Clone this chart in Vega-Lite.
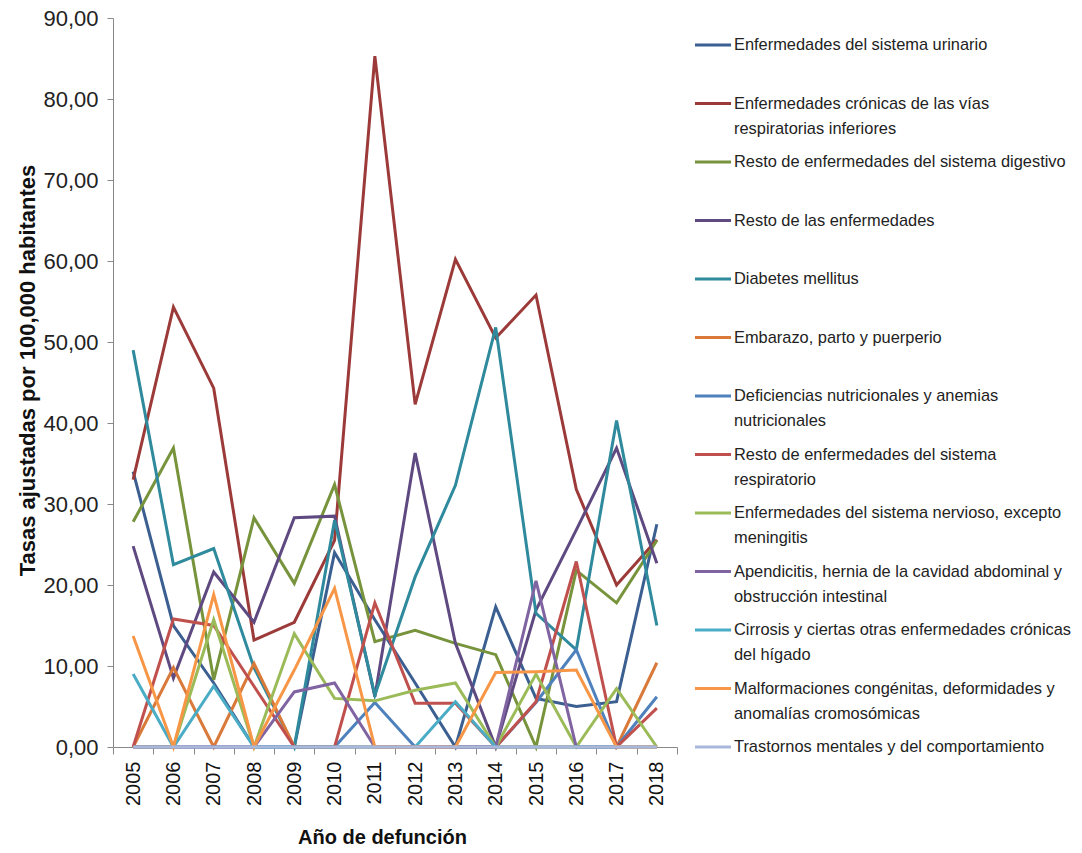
{
  "$schema": "https://vega.github.io/schema/vega-lite/v6.json",
  "autosize": "none",
  "width": 564,
  "height": 729,
  "padding": {"left": 113, "top": 18, "right": 405, "bottom": 106},
  "background": "white",
  "config": {"view": {"stroke": null}, "font": "Liberation Sans"},
  "data": {"values": [
      {"serie": "Enfermedades del sistema urinario", "year": ["2005","2006","2007","2008","2009","2010","2011","2012","2013","2014","2015","2016","2017","2018"], "v": [34.0, 15.0, 7.9, 0, 0, 24.0, 15.7, 7.9, 0, 17.3, 6.0, 5.0, 5.6, 27.5]},
      {"serie": "Enfermedades crónicas de las vías respiratorias inferiores", "year": ["2005","2006","2007","2008","2009","2010","2011","2012","2013","2014","2015","2016","2017","2018"], "v": [33.0, 54.3, 44.3, 13.2, 15.4, 25.5, 85.3, 42.3, 60.2, 50.5, 55.8, 31.8, 20.0, 25.6]},
      {"serie": "Resto de enfermedades del sistema digestivo", "year": ["2005","2006","2007","2008","2009","2010","2011","2012","2013","2014","2015","2016","2017","2018"], "v": [27.8, 36.9, 8.3, 28.3, 20.2, 32.4, 13.0, 14.4, 12.8, 11.4, 0, 21.8, 17.8, 25.5]},
      {"serie": "Resto de las enfermedades", "year": ["2005","2006","2007","2008","2009","2010","2011","2012","2013","2014","2015","2016","2017","2018"], "v": [24.8, 8.5, 21.6, 15.4, 28.3, 28.5, 6.2, 36.3, 12.8, 0, 16.9, 26.8, 36.9, 22.7]},
      {"serie": "Diabetes mellitus", "year": ["2005","2006","2007","2008","2009","2010","2011","2012","2013","2014","2015","2016","2017","2018"], "v": [49.0, 22.5, 24.5, 9.8, 0, 28.0, 6.4, 21.0, 32.3, 51.8, 16.5, 12.0, 40.3, 15.0]},
      {"serie": "Embarazo, parto y puerperio", "year": ["2005","2006","2007","2008","2009","2010","2011","2012","2013","2014","2015","2016","2017","2018"], "v": [0, 9.8, 0, 10.3, 0, 0, 0, 0, 0, 0, 0, 0, 0, 10.4]},
      {"serie": "Deficiencias nutricionales y anemias nutricionales", "year": ["2005","2006","2007","2008","2009","2010","2011","2012","2013","2014","2015","2016","2017","2018"], "v": [0, 0, 0, 0, 0, 0, 5.5, 0, 0, 0, 5.5, 12.0, 0, 6.2]},
      {"serie": "Resto de enfermedades del sistema respiratorio", "year": ["2005","2006","2007","2008","2009","2010","2011","2012","2013","2014","2015","2016","2017","2018"], "v": [0, 15.8, 15.0, 7.5, 0, 0, 17.8, 5.4, 5.4, 0, 5.6, 22.9, 0, 4.8]},
      {"serie": "Enfermedades del sistema nervioso, excepto meningitis", "year": ["2005","2006","2007","2008","2009","2010","2011","2012","2013","2014","2015","2016","2017","2018"], "v": [0, 0, 15.7, 0, 14.0, 6.0, 5.7, 7.0, 7.9, 0, 9.0, 0, 7.2, 0]},
      {"serie": "Apendicitis, hernia de la cavidad abdominal y obstrucción intestinal", "year": ["2005","2006","2007","2008","2009","2010","2011","2012","2013","2014","2015","2016","2017","2018"], "v": [0, 0, 0, 0, 6.8, 7.9, 0, 0, 0, 0, 20.5, 0, 0, 0]},
      {"serie": "Cirrosis y ciertas otras enfermedades crónicas del hígado", "year": ["2005","2006","2007","2008","2009","2010","2011","2012","2013","2014","2015","2016","2017","2018"], "v": [9.0, 0, 7.5, 0, 0, 0, 0, 0, 5.6, 0, 0, 0, 0, 0]},
      {"serie": "Malformaciones congénitas, deformidades y anomalías cromosómicas", "year": ["2005","2006","2007","2008","2009","2010","2011","2012","2013","2014","2015","2016","2017","2018"], "v": [13.7, 0, 18.8, 0, 9.5, 19.6, 0, 0, 0, 9.2, 9.3, 9.5, 0, 0]},
      {"serie": "Trastornos mentales y del comportamiento", "year": ["2005","2006","2007","2008","2009","2010","2011","2012","2013","2014","2015","2016","2017","2018"], "v": [0, 0, 0, 0, 0, 0, 0, 0, 0, 0, 0, 0, 0, 0]}
  ]},
  "transform": [
    {"flatten": ["year", "v"], "as": ["anio", "tasa"]}
  ],
  "mark": {"type": "line", "strokeWidth": 3, "strokeJoin": "miter", "strokeCap": "butt"},
  "encoding": {
    "x": {
      "field": "anio", "type": "ordinal", "bandPosition": 0.5,
      "scale": {"type": "band", "paddingInner": 0, "paddingOuter": 0},
      "axis": {
        "title": "Año de defunción", "titleFontSize": 20, "titleFontWeight": "bold", "titleColor": "#111",
        "titlePadding": 22, "titleX": 269, "titleAnchor": null,
        "labelAngle": -90, "labelFontSize": 20, "labelColor": "#111", "labelPadding": 7,
        "tickBand": "extent", "tickSize": 7, "tickColor": "#888", "domainColor": "#888", "grid": false
      }
    },
    "y": {
      "field": "tasa", "type": "quantitative",
      "scale": {"domain": [0, 90], "nice": false},
      "axis": {
        "values": [0, 10, 20, 30, 40, 50, 60, 70, 80, 90],
        "labelExpr": "replace(format(datum.value, '.2f'), '.', ',')",
        "labelFontSize": 22, "labelColor": "#222", "labelPadding": 9, "tickSize": 6,
        "tickColor": "#888", "domainColor": "#888", "grid": false,
        "title": "Tasas ajustadas por 100,000 habitantes", "titleFont": "Liberation Sans",
        "titleFontSize": 22, "titleFontWeight": "bold", "titleColor": "#111",
        "titleX": -86, "titleY": 352, "titleAngle": -90, "titleAlign": "center", "titleBaseline": "middle"
      }
    },
    "color": {
      "field": "serie", "type": "nominal",
      "scale": {
        "domain": [
          "Enfermedades del sistema urinario",
          "Enfermedades crónicas de las vías respiratorias inferiores",
          "Resto de enfermedades del sistema digestivo",
          "Resto de las enfermedades",
          "Diabetes mellitus",
          "Embarazo, parto y puerperio",
          "Deficiencias nutricionales y anemias nutricionales",
          "Resto de enfermedades del sistema respiratorio",
          "Enfermedades del sistema nervioso, excepto meningitis",
          "Apendicitis, hernia de la cavidad abdominal y obstrucción intestinal",
          "Cirrosis y ciertas otras enfermedades crónicas del hígado",
          "Malformaciones congénitas, deformidades y anomalías cromosómicas",
          "Trastornos mentales y del comportamiento"
        ],
        "range": ["#3B5F91", "#9B3A38", "#77933C", "#5E4A80", "#2E8A9C", "#D9793A", "#4F81BD", "#C0504D", "#9BBB59", "#8064A2", "#4BACC6", "#F79646", "#A9B7DA"]
      },
      "legend": {
        "title": null, "orient": "none", "legendX": 580, "legendY": 7,
        "symbolType": "stroke", "symbolSize": 1300, "symbolStrokeWidth": 3,
        "labelFontSize": 16.4, "labelColor": "#222", "labelOffset": 1, "labelLimit": 400,
        "labelBaseline": "middle", "rowPadding": 4.5,
        "labelExpr": "datum.label == 'Enfermedades crónicas de las vías respiratorias inferiores' ? ['Enfermedades crónicas de las vías', 'respiratorias inferiores'] : datum.label == 'Deficiencias nutricionales y anemias nutricionales' ? ['Deficiencias nutricionales y anemias', 'nutricionales'] : datum.label == 'Resto de enfermedades del sistema respiratorio' ? ['Resto de enfermedades  del sistema', 'respiratorio'] : datum.label == 'Enfermedades del sistema nervioso, excepto meningitis' ? ['Enfermedades del sistema nervioso, excepto', 'meningitis'] : datum.label == 'Apendicitis, hernia de la cavidad abdominal y obstrucción intestinal' ? ['Apendicitis, hernia de la cavidad abdominal y', 'obstrucción intestinal'] : datum.label == 'Cirrosis y ciertas otras enfermedades crónicas del hígado' ? ['Cirrosis y ciertas otras enfermedades  crónicas', 'del hígado'] : datum.label == 'Malformaciones congénitas, deformidades y anomalías cromosómicas' ? ['Malformaciones congénitas, deformidades y', 'anomalías cromosómicas'] : [datum.label, '']",
        "encode": {"labels": {"update": {"lineHeight": {"value": 25}}}}
      }
    }
  }
}
